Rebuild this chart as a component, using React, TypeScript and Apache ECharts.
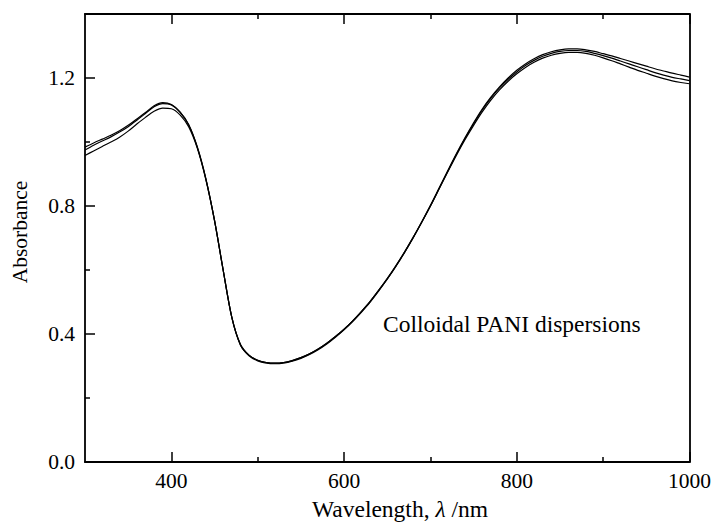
import React, { useEffect, useRef } from "react";
import * as echarts from "echarts";

const wavelengths = [
  300, 310, 320, 330, 340, 350, 360, 370, 380, 390, 400, 410, 420, 430, 440, 450, 460, 470, 480, 490,
  500, 510, 520, 530, 540, 550, 560, 570, 580, 590, 600, 610, 620, 630, 640, 650, 660, 670, 680, 690,
  700, 710, 720, 730, 740, 750, 760, 770, 780, 790, 800, 810, 820, 830, 840, 850, 860, 870, 880, 890,
  900, 910, 920, 930, 940, 950, 960, 970, 980, 990, 1000,
];

const absorbanceA = [
  0.984, 0.997, 1.009, 1.021, 1.035, 1.052, 1.072, 1.092, 1.113, 1.123, 1.117, 1.094, 1.055, 0.985, 0.885, 0.755, 0.6, 0.452, 0.366, 0.333,
  0.318, 0.311, 0.309, 0.311, 0.317, 0.326, 0.338, 0.353, 0.371, 0.392, 0.415, 0.441, 0.47, 0.501, 0.536, 0.573, 0.613, 0.656, 0.702, 0.751,
  0.802, 0.856, 0.91, 0.963, 1.013, 1.06, 1.103, 1.14, 1.172, 1.2, 1.224, 1.244, 1.26, 1.273, 1.282, 1.288, 1.291, 1.291, 1.288, 1.283,
  1.276, 1.269, 1.261, 1.253, 1.245, 1.237, 1.229, 1.222, 1.215, 1.209, 1.203,
];

const absorbanceB = [
  0.975, 0.99, 1.003, 1.016, 1.031, 1.048, 1.068, 1.089, 1.11, 1.12, 1.116, 1.093, 1.054, 0.984, 0.884, 0.754, 0.599, 0.452, 0.366, 0.332,
  0.316, 0.309, 0.307, 0.309, 0.315, 0.324, 0.336, 0.351, 0.369, 0.39, 0.413, 0.439, 0.468, 0.499, 0.534, 0.571, 0.611, 0.654, 0.7, 0.749,
  0.8, 0.854, 0.908, 0.961, 1.011, 1.057, 1.1, 1.137, 1.169, 1.196, 1.219, 1.239, 1.255, 1.268, 1.277, 1.283, 1.286, 1.286, 1.283, 1.277,
  1.27, 1.262, 1.253, 1.244, 1.235, 1.226, 1.217, 1.209, 1.202, 1.197, 1.192,
];

const absorbanceC = [
  0.958, 0.972, 0.986, 1.0, 1.015, 1.034, 1.056, 1.077, 1.096, 1.106, 1.104, 1.085, 1.048, 0.981, 0.882, 0.754, 0.6, 0.453, 0.368, 0.334,
  0.318, 0.311, 0.309, 0.311, 0.317, 0.326, 0.338, 0.353, 0.371, 0.392, 0.415, 0.441, 0.47, 0.501, 0.536, 0.573, 0.613, 0.656, 0.702, 0.75,
  0.8, 0.853, 0.906, 0.958, 1.007, 1.052, 1.094, 1.131, 1.163, 1.19, 1.213, 1.233, 1.249, 1.262, 1.271, 1.277, 1.28, 1.28, 1.277, 1.271,
  1.263, 1.254, 1.244, 1.234, 1.224, 1.215, 1.206, 1.198, 1.191, 1.186, 1.182,
];

const xMajorTicks = [400, 600, 800, 1000];
const xMinorTicks = [500, 700, 900];
const yMajorTicks = [0, 0.4, 0.8, 1.2];
const yMinorTicks = [0.2, 0.6, 1.0];

const FONT = "Liberation Serif, Times New Roman, serif";

export default function App() {
  const ref = useRef<HTMLDivElement>(null);

  useEffect(() => {
    document.body.style.margin = "0";
    if (!ref.current) return;
    const chart = echarts.init(ref.current, null, { renderer: "svg" });

    const toPairs = (ys: number[]) => wavelengths.map((w, i) => [w, ys[i]]);
    const lineStyle = { color: "#000", width: 1.2 };
    const tickLine = { color: "#000", width: 1.5 };
    const axisLineStyle = { color: "#000", width: 1.8 };

    const baseX = {
      type: "value" as const,
      min: 300,
      max: 1000,
      interval: 100,
      splitLine: { show: false },
    };
    const baseY = {
      type: "value" as const,
      min: 0,
      max: 1.4,
      interval: 0.2,
      splitLine: { show: false },
    };

    chart.setOption({
      animation: false,
      backgroundColor: "#fff",
      grid: { left: 85, right: 22, top: 14, bottom: 62, containLabel: false },
      xAxis: [
        {
          ...baseX,
          position: "bottom",
          axisLine: { show: true, onZero: false, lineStyle: axisLineStyle },
          axisTick: { show: true, inside: true, length: 10, customValues: xMajorTicks, lineStyle: tickLine },
          axisLabel: {
            show: true,
            customValues: xMajorTicks,
            color: "#000",
            fontFamily: FONT,
            fontSize: 21.5,
            margin: 8,
            formatter: (v: number) => String(v),
          },
        },
        {
          ...baseX,
          position: "bottom",
          axisLine: { show: false, onZero: false },
          axisTick: { show: true, inside: true, length: 5, customValues: xMinorTicks, lineStyle: tickLine },
          axisLabel: { show: false },
        },
        {
          ...baseX,
          position: "top",
          axisLine: { show: true, onZero: false, lineStyle: axisLineStyle },
          axisTick: { show: true, inside: true, length: 10, customValues: xMajorTicks, lineStyle: tickLine },
          axisLabel: { show: false },
        },
        {
          ...baseX,
          position: "top",
          axisLine: { show: false, onZero: false },
          axisTick: { show: true, inside: true, length: 5, customValues: xMinorTicks, lineStyle: tickLine },
          axisLabel: { show: false },
        },
      ],
      yAxis: [
        {
          ...baseY,
          position: "left",
          axisLine: { show: true, onZero: false, lineStyle: axisLineStyle },
          axisTick: { show: true, inside: true, length: 10, customValues: yMajorTicks, lineStyle: tickLine },
          axisLabel: {
            show: true,
            customValues: yMajorTicks,
            color: "#000",
            fontFamily: FONT,
            fontSize: 21.5,
            margin: 10,
            formatter: (v: number) => v.toFixed(1),
          },
        },
        {
          ...baseY,
          position: "left",
          axisLine: { show: false, onZero: false },
          axisTick: { show: true, inside: true, length: 5, customValues: yMinorTicks, lineStyle: tickLine },
          axisLabel: { show: false },
        },
        {
          ...baseY,
          position: "right",
          axisLine: { show: true, onZero: false, lineStyle: axisLineStyle },
          axisTick: { show: false },
          axisLabel: { show: false },
        },
      ],
      series: [absorbanceA, absorbanceB, absorbanceC].map((ys) => ({
        type: "line",
        xAxisIndex: 0,
        yAxisIndex: 0,
        data: toPairs(ys),
        smooth: 0.3,
        showSymbol: false,
        symbol: "none",
        lineStyle,
      })),
      graphic: [
        {
          type: "text",
          x: 383,
          y: 324,
          style: {
            text: "Colloidal PANI dispersions",
            fill: "#000",
            fontFamily: FONT,
            fontSize: 23.5,
            textAlign: "left",
            textVerticalAlign: "middle",
          },
        },
        {
          type: "text",
          x: 400,
          y: 509,
          style: {
            text: "Wavelength, {i|λ} /nm",
            fill: "#000",
            fontFamily: FONT,
            fontSize: 23.5,
            textAlign: "center",
            textVerticalAlign: "middle",
            rich: {
              i: { fontFamily: FONT, fontSize: 23.5, fontStyle: "italic", fill: "#000" },
            },
          },
        },
        {
          type: "text",
          x: 20,
          y: 232,
          rotation: Math.PI / 2,
          style: {
            text: "Absorbance",
            fill: "#000",
            fontFamily: FONT,
            fontSize: 21.5,
            textAlign: "center",
            textVerticalAlign: "middle",
          },
        },
      ],
    });

    return () => chart.dispose();
  }, []);

  return <div ref={ref} style={{ width: 714, height: 524 }} />;
}
